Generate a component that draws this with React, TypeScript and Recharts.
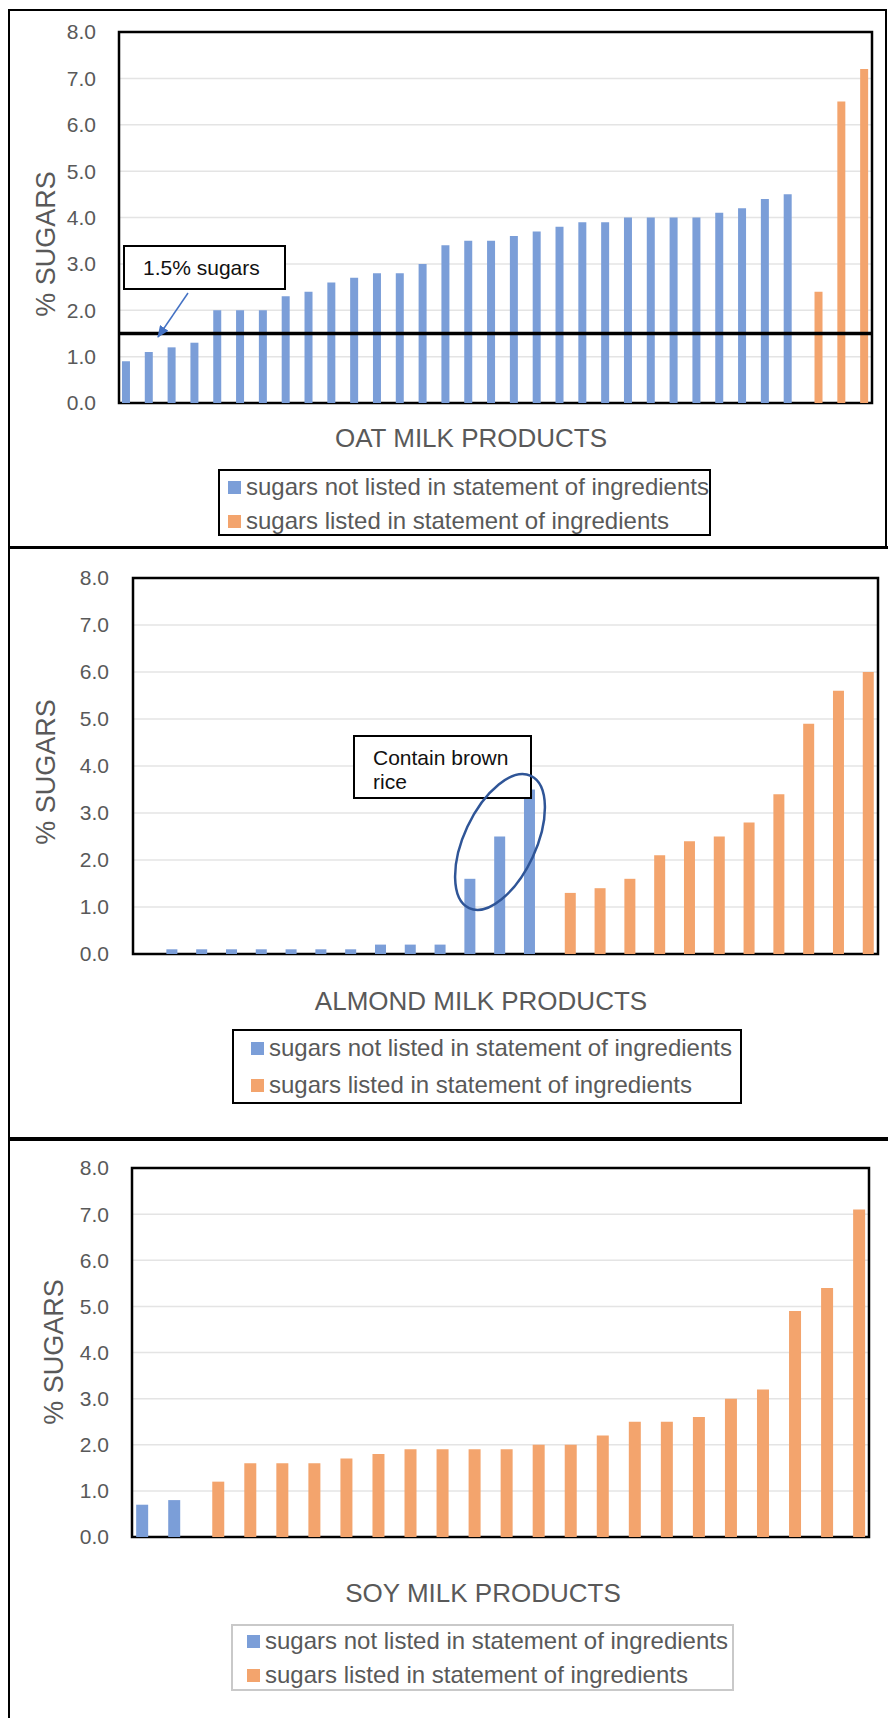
import React from "react";
import {
  BarChart,
  Bar,
  XAxis,
  YAxis,
  CartesianGrid,
  ReferenceLine,
  ReferenceArea,
} from "recharts";

const BLUE = "#7b9ed8";
const ORANGE = "#f3a46d";
const TEXT_GREY = "#595959";
const FONT = "'Liberation Sans', Arial, sans-serif";

const seriesNames = [
  "sugars not listed in statement of ingredients",
  "sugars listed in statement of ingredients",
];
const yTicks = [0, 1, 2, 3, 4, 5, 6, 7, 8];

// oat milk products, sorted as in the source
const oatNotListed = [
  0.9, 1.1, 1.2, 1.3, 2.0, 2.0, 2.0, 2.3, 2.4, 2.6, 2.7, 2.8, 2.8, 3.0, 3.4,
  3.5, 3.5, 3.6, 3.7, 3.8, 3.9, 3.9, 4.0, 4.0, 4.0, 4.0, 4.1, 4.2, 4.4, 4.5,
  null, null, null,
];
const oatListed = [
  null, null, null, null, null, null, null, null, null, null, null, null, null,
  null, null, null, null, null, null, null, null, null, null, null, null, null,
  null, null, null, null, 2.4, 6.5, 7.2,
];

// almond milk products
const almondNotListed = [
  0, 0.1, 0.1, 0.1, 0.1, 0.1, 0.1, 0.1, 0.2, 0.2, 0.2, 1.6, 2.5, 3.5,
  null, null, null, null, null, null, null, null, null, null, null,
];
const almondListed = [
  null, null, null, null, null, null, null, null, null, null, null, null, null,
  null, 1.3, 1.4, 1.6, 2.1, 2.4, 2.5, 2.8, 3.4, 4.9, 5.6, 6.0,
];

// soy milk products
const soyNotListed = [
  0.7, 0.8, null, null, null, null, null, null, null, null, null, null, null,
  null, null, null, null, null, null, null, null, null, null,
];
const soyListed = [
  null, null, 1.2, 1.6, 1.6, 1.6, 1.7, 1.8, 1.9, 1.9, 1.9, 1.9, 2.0, 2.0, 2.2,
  2.5, 2.5, 2.6, 3.0, 3.2, 4.9, 5.4, 7.1,
];

type Num = number | null;

type PanelProps = {
  title: string;
  notListed: Num[];
  listed: Num[];
  plot: { left: number; right: number; top: number; bottom: number };
  tickGap: number;
  gap: string;
  yLabel: { x: number; y: number };
  titlePos: { x: number; y: number };
  legend: {
    left: number;
    top: number;
    width: number;
    height: number;
    border: string;
    markerLeft: number;
    textLeft: number;
    rows: number[];
  };
  threshold?: number;
};

function Panel(p: PanelProps) {
  const data = p.notListed.map((v, i) => ({
    product: `P${i + 1}`,
    notListed: v,
    listed: p.listed[i],
  }));
  const pad = 20;
  const lg = p.legend;
  return (
    <>
      <div style={{ position: "absolute", left: 0, top: p.plot.top - pad }}>
        <BarChart
          width={888}
          height={p.plot.bottom - p.plot.top + 2 * pad}
          data={data}
          margin={{ top: pad, right: 888 - p.plot.right, bottom: pad, left: 0 }}
          barCategoryGap={p.gap}
          barGap={0}
        >
          <CartesianGrid vertical={false} stroke="#e4e4e4" strokeWidth={1.5} />
          <XAxis dataKey="product" hide />
          <YAxis
            domain={[0, 8]}
            ticks={yTicks}
            interval={0}
            width={p.plot.left}
            axisLine={false}
            tickLine={false}
            tickSize={0}
            tickMargin={p.tickGap}
            tickFormatter={(v: number) => v.toFixed(1)}
            tick={{ fill: TEXT_GREY, fontSize: 21, fontFamily: FONT }}
          />
          <Bar dataKey="notListed" name={seriesNames[0]} fill={BLUE} isAnimationActive={false} />
          <Bar dataKey="listed" name={seriesNames[1]} fill={ORANGE} isAnimationActive={false} />
          {p.threshold !== undefined && (
            <ReferenceLine y={p.threshold} stroke="#000" strokeWidth={3.5} />
          )}
          <ReferenceArea
            y1={0}
            y2={8}
            fill="none"
            stroke="#000"
            strokeWidth={2.5}
            ifOverflow="visible"
          />
        </BarChart>
      </div>
      <div
        style={{
          position: "absolute",
          left: p.yLabel.x,
          top: p.yLabel.y,
          transform: "translate(-50%, -50%) rotate(-90deg)",
          whiteSpace: "nowrap",
          fontSize: 27,
          color: TEXT_GREY,
          fontFamily: FONT,
        }}
      >
        % SUGARS
      </div>
      <div
        style={{
          position: "absolute",
          left: p.titlePos.x,
          top: p.titlePos.y,
          transform: "translate(-50%, -50%)",
          whiteSpace: "nowrap",
          fontSize: 26,
          color: TEXT_GREY,
          fontFamily: FONT,
        }}
      >
        {p.title}
      </div>
      <div
        style={{
          position: "absolute",
          left: lg.left,
          top: lg.top,
          width: lg.width,
          height: lg.height,
          boxSizing: "border-box",
          border: `2px solid ${lg.border}`,
          background: "#fff",
        }}
      >
        {seriesNames.map((name, i) => (
          <div
            key={name}
            style={{
              position: "absolute",
              left: lg.markerLeft - lg.left - 2,
              top: lg.rows[i] - lg.top - 2 - 15,
              height: 30,
              display: "flex",
              alignItems: "center",
              whiteSpace: "nowrap",
              fontSize: 24,
              color: TEXT_GREY,
              fontFamily: FONT,
            }}
          >
            <span
              style={{
                display: "inline-block",
                width: 13,
                height: 13,
                background: i === 0 ? BLUE : ORANGE,
                marginRight: lg.textLeft - lg.markerLeft - 13,
              }}
            />
            {name}
          </div>
        ))}
      </div>
    </>
  );
}

export default function App() {
  return (
    <div
      style={{
        position: "absolute",
        left: 0,
        top: 0,
        width: 888,
        height: 1718,
        overflow: "hidden",
        background: "#fff",
        fontFamily: FONT,
      }}
    >
      {/* outer frame */}
      <div style={{ position: "absolute", left: 8, top: 9, width: 878, height: 2, background: "#000" }} />
      <div style={{ position: "absolute", left: 8, top: 9, width: 2, height: 1709, background: "#000" }} />
      <div style={{ position: "absolute", left: 885, top: 9, width: 2, height: 538, background: "#000" }} />
      <div style={{ position: "absolute", left: 8, top: 546, width: 880, height: 3, background: "#000" }} />
      <div style={{ position: "absolute", left: 8, top: 1137, width: 880, height: 4, background: "#000" }} />

      <Panel
        title="OAT MILK PRODUCTS"
        notListed={oatNotListed}
        listed={oatListed}
        plot={{ left: 119, right: 872, top: 32, bottom: 403 }}
        tickGap={23}
        gap="13%"
        yLabel={{ x: 46, y: 244 }}
        titlePos={{ x: 471, y: 438 }}
        legend={{
          left: 218,
          top: 469,
          width: 493,
          height: 67,
          border: "#000",
          markerLeft: 228,
          textLeft: 246,
          rows: [487, 521],
        }}
        threshold={1.5}
      />
      <Panel
        title="ALMOND MILK PRODUCTS"
        notListed={almondNotListed}
        listed={almondListed}
        plot={{ left: 133, right: 878, top: 578, bottom: 954 }}
        tickGap={24}
        gap="12%"
        yLabel={{ x: 46, y: 772 }}
        titlePos={{ x: 481, y: 1001 }}
        legend={{
          left: 232,
          top: 1029,
          width: 510,
          height: 75,
          border: "#000",
          markerLeft: 251,
          textLeft: 269,
          rows: [1048, 1085],
        }}
      />
      <Panel
        title="SOY MILK PRODUCTS"
        notListed={soyNotListed}
        listed={soyListed}
        plot={{ left: 132, right: 869, top: 1168, bottom: 1537 }}
        tickGap={23}
        gap="13%"
        yLabel={{ x: 54, y: 1352 }}
        titlePos={{ x: 483, y: 1593 }}
        legend={{
          left: 231,
          top: 1624,
          width: 503,
          height: 67,
          border: "#c9c9c9",
          markerLeft: 247,
          textLeft: 265,
          rows: [1641, 1675],
        }}
      />

      {/* annotations */}
      <div
        style={{
          position: "absolute",
          left: 123,
          top: 245,
          width: 163,
          height: 45,
          boxSizing: "border-box",
          border: "2px solid #000",
          background: "#fff",
          paddingLeft: 18,
          lineHeight: "41px",
          fontSize: 21,
          color: "#111",
          whiteSpace: "nowrap",
        }}
      >
        1.5% sugars
      </div>
      <div
        style={{
          position: "absolute",
          left: 353,
          top: 735,
          width: 179,
          height: 64,
          boxSizing: "border-box",
          border: "2px solid #000",
          background: "#fff",
          paddingLeft: 18,
          paddingTop: 9,
          lineHeight: "24px",
          fontSize: 21,
          color: "#111",
          whiteSpace: "nowrap",
        }}
      >
        Contain brown
        <br />
        rice
      </div>
      <svg
        width={888}
        height={1718}
        style={{ position: "absolute", left: 0, top: 0, pointerEvents: "none" }}
      >
        <defs>
          <marker
            id="arrowHead"
            viewBox="0 0 12 10"
            markerWidth={12}
            markerHeight={10}
            refX={11}
            refY={5}
            orient="auto"
            markerUnits="userSpaceOnUse"
          >
            <path d="M0,0 L12,5 L0,10 z" fill="#4472c4" />
          </marker>
        </defs>
        <line
          x1={188}
          y1={293}
          x2={158}
          y2={337}
          stroke="#4472c4"
          strokeWidth={1.5}
          markerEnd="url(#arrowHead)"
        />
        <ellipse
          cx={500}
          cy={842}
          rx={36}
          ry={73}
          transform="rotate(25 500 842)"
          fill="none"
          stroke="#2f5597"
          strokeWidth={2.5}
        />
      </svg>
    </div>
  );
}
